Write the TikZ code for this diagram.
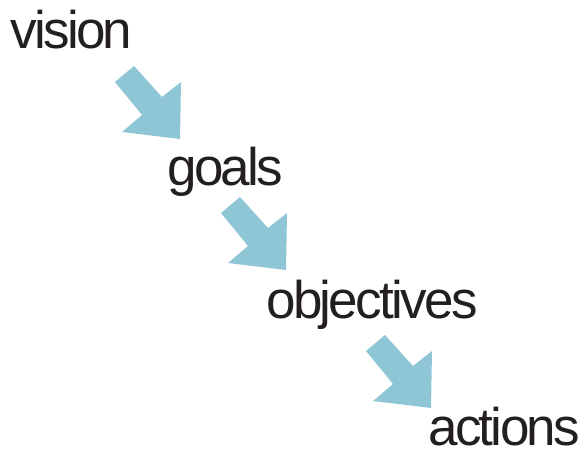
\documentclass[tikz,border=0pt]{standalone}
\usepackage{fontspec}
\usepackage{xcolor}
\usepackage{tikz}
\newfontfamily\lblfont{Liberation Sans}[LetterSpace=-5]
\definecolor{arrowblue}{RGB}{142,198,214}
\definecolor{inkdark}{RGB}{35,31,32}

\begin{document}
\begin{tikzpicture}[x=1pt,y=-1pt,
    lbl/.style={anchor=base west, inner sep=0pt, text=inkdark,
        font=\lblfont\fontsize{53}{60}\selectfont},
    bigarrow/.style={fill=arrowblue}]
    \useasboundingbox (0,0) rectangle (585,450);

    % Steps
    \node[lbl] (vision) at (10,48) {vision};
    \node[lbl] (goals) at (167,185) {goals};
    \node[lbl] (objectives) at (266,318) {objectives};
    \node[lbl] (actions) at (428,445) {actions};

    % Arrow tips
    \coordinate (tip1) at (180,139);
    \coordinate (tip2) at (286,270);
    \coordinate (tip3) at (431,408);

    % Arrows
    \foreach \t in {tip1,tip2,tip3} {
        \fill[bigarrow] (\t) -- +(1,-57) -- +(-18,-42) -- +(-46,-73)
            -- +(-65,-57) -- +(-38,-24) -- +(-58,-7) -- cycle;
    }
\end{tikzpicture}
\end{document}
